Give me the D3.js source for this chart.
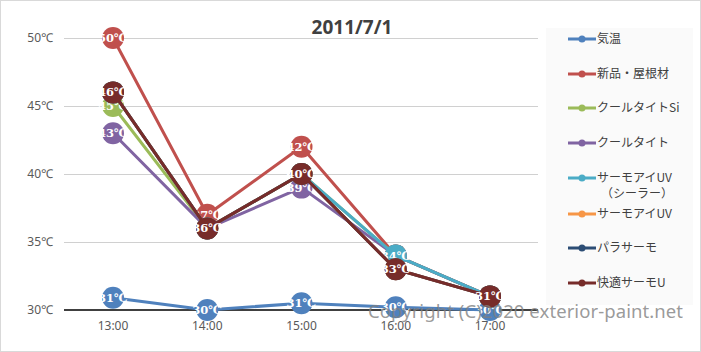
<!DOCTYPE html>
<html>
<head>
<meta charset="utf-8">
<title>2011/7/1</title>
<style>
body { margin: 0; background: #fff; }
#chart { width: 701px; height: 352px; }
.grid line { stroke: #d0d0d0; stroke-width: 1px; }
.tick-y, .tick-x { font: 12px "Noto Sans", "Open Sans", sans-serif; fill: #595959; }
.series path { fill: none; stroke-width: 3px; stroke-linejoin: round; }
.dlabel { font: bold 11.5px "DejaVu Serif", "Liberation Serif", serif; fill: #fff; }
.legend text { font: 12px "Noto Sans CJK JP", sans-serif; fill: #404040; }
</style>
</head>
<body>
<div id="chart"></div>
<script src="https://d3js.org/d3.v7.min.js"></script>
<script>
// categories and values
var hours = ["13:00", "14:00", "15:00", "16:00", "17:00"];
var yTicks = [30, 35, 40, 45, 50];
var names = ["気温", "新品・屋根材", "クールタイトSi", "クールタイト", "サーモアイUV\n（シーラー）", "サーモアイUV", "パラサーモ", "快適サーモU"];
var colors = ["#4f81bd", "#c0504d", "#9bbb59", "#8064a2", "#4bacc6", "#f79646", "#2c4d75", "#772c2a"];

var kion     = [30.9, 30.0, 30.5, 30.2, 30.0];
var shinpin  = [50, 37, 42, 34, 31];
var coolSi   = [45, 36, 40, 34, 31];
var cool     = [43, 36, 39, 34, 31];
var thermoS  = [46, 36, 40, 34, 31];
var thermo   = [46, 36, 40, 33, 31];
var para     = [46, 36, 40, 33, 31];
var kaiteki  = [46, 36, 40, 33, 31];
// label text shown in each marker
var kionLbl  = ["31℃", "30℃", "31℃", "30℃", "30℃"];

var seriesVals = [kion, shinpin, coolSi, cool, thermoS, thermo, para, kaiteki];

var W = 701, H = 352;
var svg = d3.select("#chart").append("svg")
  .attr("width", W).attr("height", H);

// outer frame
svg.append("rect").attr("x", 0.5).attr("y", 0.5)
  .attr("width", W - 1).attr("height", H - 1)
  .attr("fill", "#fff").attr("stroke", "#d9d9d9");

var x = d3.scalePoint().domain(hours).range([113, 490]);
var y = d3.scaleLinear().domain([30, 50]).range([310, 38]);

// gridlines
svg.append("g").attr("class", "grid")
  .selectAll("line").data(yTicks.slice(1)).join("line")
  .attr("x1", 64).attr("x2", 538)
  .attr("y1", function(d) { return y(d) + 0.5; })
  .attr("y2", function(d) { return y(d) + 0.5; });

svg.append("line")
  .attr("x1", 64).attr("x2", 538)
  .attr("y1", y(30)).attr("y2", y(30))
  .attr("stroke", "#404040").attr("stroke-width", 2);

svg.selectAll("text.tick-y").data(yTicks).join("text")
  .attr("class", "tick-y")
  .attr("x", 53).attr("y", function(d) { return y(d) + 4; })
  .attr("text-anchor", "end")
  .text(function(d) { return d + "℃"; });

svg.selectAll("text.tick-x").data(hours).join("text")
  .attr("class", "tick-x")
  .attr("x", function(d) { return x(d); }).attr("y", 330)
  .attr("text-anchor", "middle")
  .text(function(d) { return d; });

// title
svg.append("text").attr("x", 352).attr("y", 34)
  .attr("text-anchor", "middle")
  .style("font", "bold 19px 'Open Sans', 'Liberation Sans', sans-serif")
  .attr("fill", "#404040")
  .text("2011/7/1");

// legend box
svg.append("rect").attr("x", 546).attr("y", 28)
  .attr("width", 147).attr("height", 277).attr("fill", "#fafafa");

var line = d3.line()
  .x(function(d, i) { return x(hours[i]); })
  .y(function(d) { return y(d); });

var g = svg.selectAll("g.series").data(seriesVals).join("g").attr("class", "series");
g.append("path")
  .attr("d", function(d) { return line(d); })
  .attr("stroke", function(d, i) { return colors[i]; });

g.each(function(vals, si) {
  var gg = d3.select(this);
  var pts = gg.selectAll("g.pt").data(vals).join("g").attr("class", "pt")
    .attr("transform", function(d, i) { return "translate(" + x(hours[i]) + "," + y(d) + ")"; });
  pts.append("circle").attr("r", 11).attr("fill", colors[si]);
  pts.append("text").attr("class", "dlabel")
    .attr("text-anchor", "middle").attr("y", 4)
    .text(function(d, i) { return si === 0 ? kionLbl[i] : Math.round(d) + "℃"; });
});

// legend
var legY = [39, 74, 108, 143, 178, 214, 248, 283];
var lg = svg.append("g").attr("class", "legend")
  .selectAll("g").data(names).join("g")
  .attr("transform", function(d, i) { return "translate(568," + legY[i] + ")"; });
lg.append("line").attr("x1", 0).attr("x2", 28)
  .attr("stroke", function(d, i) { return colors[i]; }).attr("stroke-width", 3);
lg.append("circle").attr("cx", 14).attr("r", 3.5)
  .attr("fill", function(d, i) { return colors[i]; });
lg.append("text").attr("x", 29).attr("y", 4)
  .each(function(d) {
    var parts = d.split("\n");
    var t = d3.select(this);
    parts.forEach(function(p, k) {
      t.append("tspan").attr("x", k ? 33 : 29).attr("dy", k ? 16 : 0).text(p);
    });
  });

// watermark
svg.append("text").attr("x", 368).attr("y", 318)
  .style("font", "18.5px 'Noto Sans', 'Open Sans', sans-serif")
  .attr("fill", "#808080").attr("fill-opacity", 0.8)
  .attr("textLength", 315)
  .text("Copyright (C)2020 exterior-paint.net");
</script>
</body>
</html>
